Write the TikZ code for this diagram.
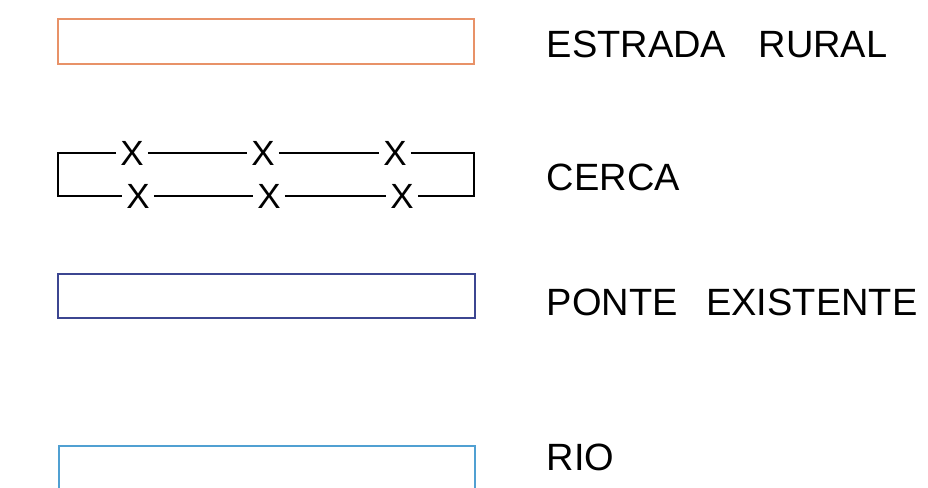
\documentclass[tikz,border=0pt]{standalone}
\usepackage{fontspec}
\setmainfont{Liberation Sans}
\usepackage{tikz}
\definecolor{estrada}{RGB}{232,146,104}
\definecolor{ponte}{RGB}{60,70,145}
\definecolor{rio}{RGB}{80,160,210}
\tikzset{
 legenda/.style={anchor=base west, inner sep=0pt, font=\fontsize{38}{40}\selectfont},
 marco/.style={inner sep=3.5pt, font=\fontsize{35}{37}\selectfont}
}
\begin{document}
\begin{tikzpicture}[x=1pt, y=-1pt, line width=1.6pt]
 \clip (0,0) rectangle (928,487);
 \fill[white] (0,0) rectangle (928,487);
 \begin{scope}
 \draw[estrada] (58,19) rectangle (474,64); % estrada rural
 \draw[ponte] (58,274) rectangle (475,318); % ponte existente
 \draw[rio] (59,446) rectangle (475,505); % rio

% a cerca: fios e marcos X
\foreach \Nome/\Px in {1/132, 2/263, 3/395}{
    \node [marco] (cima\Nome) at (\Px,153) {X};
}
\foreach \Nome/\Px in {1/138, 2/269, 3/402}{
    \node [marco] (baixo\Nome) at (\Px,196) {X};
}
 \coordinate (ce) at (58,153);
 \coordinate (cd) at (474,153);
 \coordinate (be) at (58,196);
 \coordinate (bd) at (474,196);
 \draw[line join=miter] (cima1) -- (ce) -- (be) -- (baixo1);
 \draw (cima1) -- (cima2) -- (cima3);
 \draw (baixo1) -- (baixo2) -- (baixo3);
 \draw[line join=miter] (cima3) -- (cd) -- (bd) -- (baixo3);

 \node [legenda] (tEstrada) at (546,58) {ESTRADA\hspace{0.85em}RURAL};
 \node [legenda] (tCerca) at (546,190) {CERCA};
 \node [legenda] (tPonte) at (546,315) {PONTE\hspace{0.75em}EXISTENTE};
 \node [legenda] (tRio) at (546,470) {RIO};
 \end{scope}
\end{tikzpicture}
\end{document}
